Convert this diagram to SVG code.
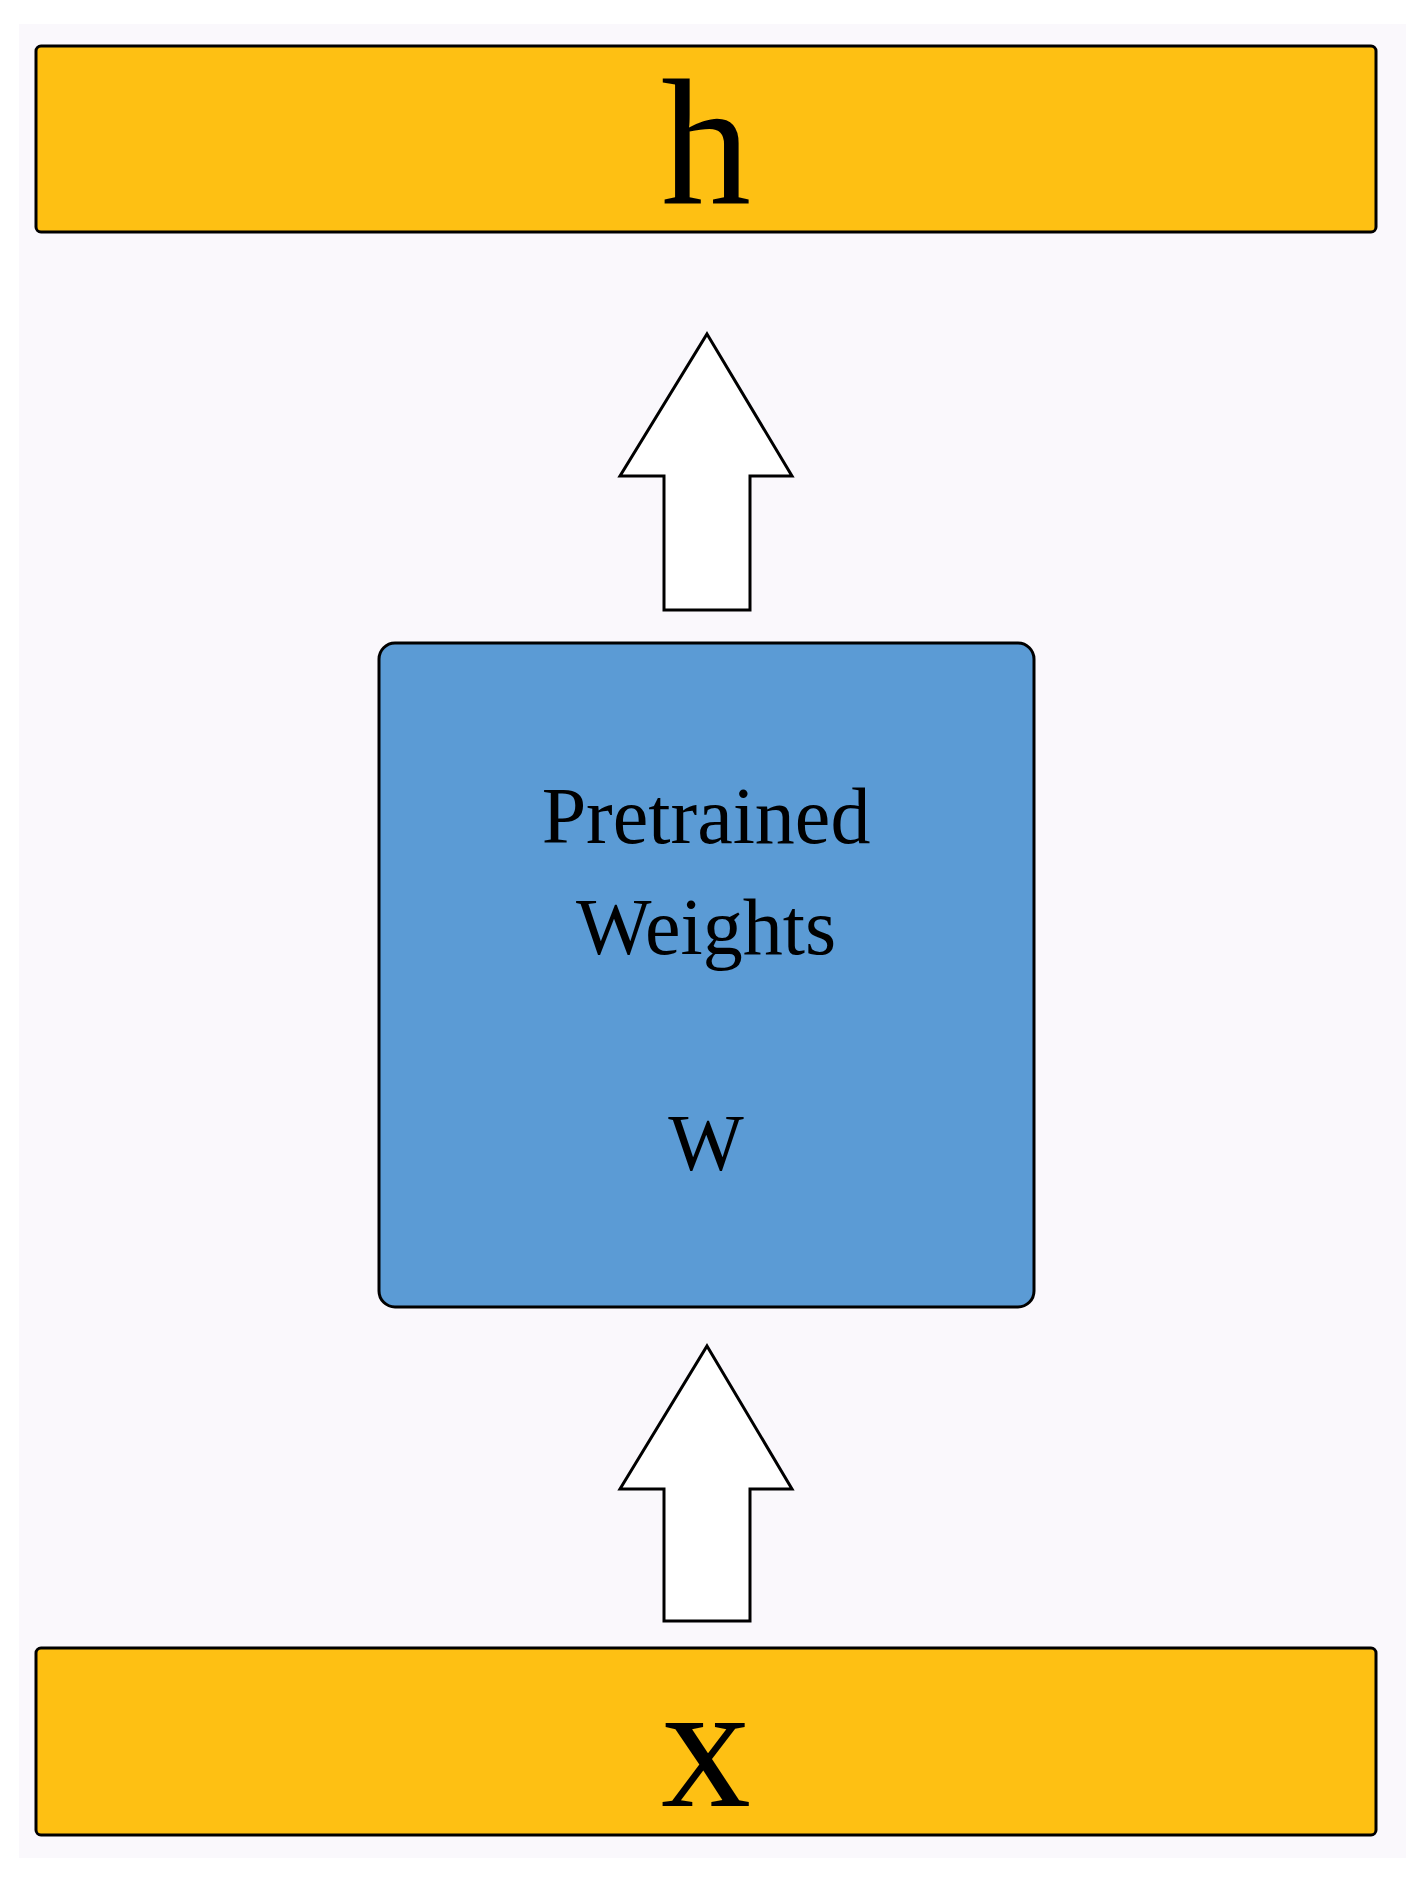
<svg xmlns="http://www.w3.org/2000/svg" width="1428" height="1880" viewBox="0 0 1428 1880">
<style>
.bar{fill:#fec013;stroke:#000;stroke-width:3}
.arr{fill:#fff;stroke:#000;stroke-width:3}
text{font-family:"Liberation Serif","Times New Roman",serif;fill:#000;text-anchor:middle}
</style>
<rect width="1428" height="1880" fill="#fff"/>
<rect x="19" y="24" width="1387" height="1834" fill="#faf8fc"/>
<g id="h"><rect class="bar" x="36" y="46" width="1340" height="186" rx="5"/><text x="706" y="204" font-size="180">h</text></g>
<g id="w"><rect x="379" y="643" width="655" height="664" rx="16" fill="#5b9bd5" stroke="#000" stroke-width="3"/>
<text x="706" y="843" font-size="80">Pretrained</text><text x="706" y="954" font-size="80">Weights</text><text x="706" y="1170" font-size="80">W</text></g>
<g id="x"><rect class="bar" x="36" y="1648" width="1340" height="187" rx="5"/><text x="706" y="1806" font-size="180">x</text></g>
<g id="connectors">
<polygon class="arr" points="707,334 792,476 750,476 750,610 664,610 664,476 620,476"/>
<polygon class="arr" points="707,1346 792,1489 750,1489 750,1621 664,1621 664,1489 620,1489"/>
</g>
</svg>
